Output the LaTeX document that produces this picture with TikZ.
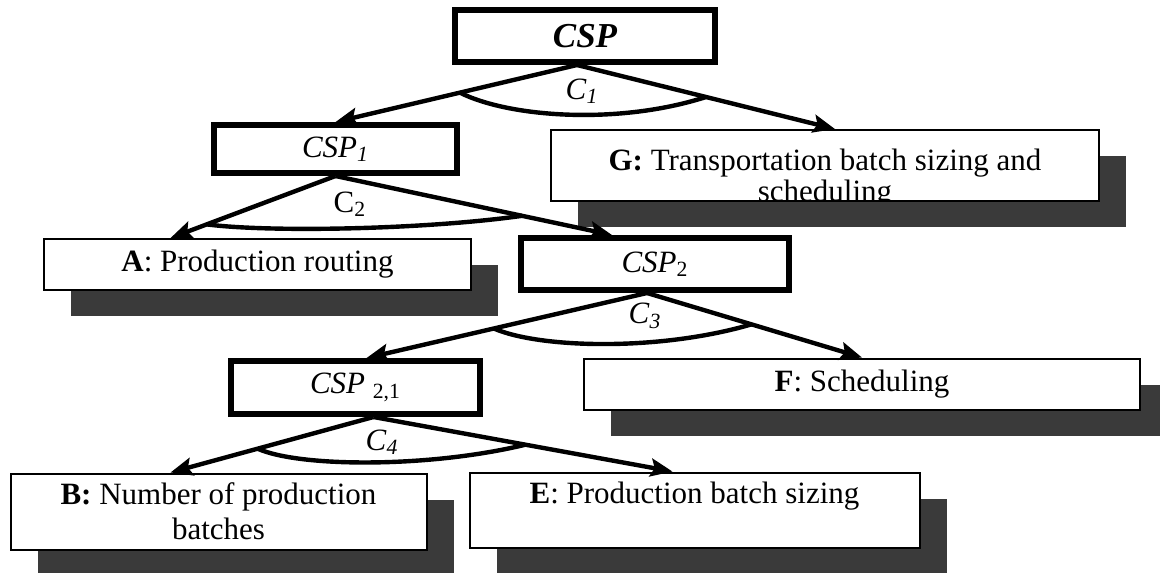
\documentclass[tikz,border=0pt]{standalone}
\usepackage{fontspec}
\setmainfont{Liberation Serif}
\usetikzlibrary{arrows.meta,shadows}
\definecolor{shadowgray}{RGB}{58,58,58}
\begin{document}
\begin{tikzpicture}[x=0.5pt,y=-0.5pt,
  cspbox/.style={draw, line width=3pt, fill=white, inner sep=0pt, font=\fontsize{15.5}{18}\selectfont},
  taskbox/.style={draw, line width=1pt, fill=white, inner sep=0pt, align=center, font=\fontsize{15.5}{17.5}\selectfont,
    general shadow={fill=shadowgray, shadow xshift=13.5pt, shadow yshift=-13pt}},
  link/.style={line width=2.2pt, -{Stealth[length=11pt,width=9pt,inset=2pt]}},
  andarc/.style={line width=2.2pt},
  lbl/.style={font=\fontsize{15.5}{18}\selectfont}]
\useasboundingbox (0,0) rectangle (1160,572);

% problems
\node[cspbox, minimum width=130pt, minimum height=26pt, font=\fontsize{17.5}{20}\selectfont\bfseries\itshape] (csp) at (585,36) {CSP};
\node[cspbox, minimum width=121.5pt, minimum height=24pt] (csp1) at (335.5,149) {\textit{CSP}\textsubscript{\textit{1}}};
\node[cspbox, minimum width=134pt, minimum height=26pt] (csp2) at (655,264) {\textit{CSP}\textsubscript{2}};
\node[cspbox, minimum width=124.5pt, minimum height=26.5pt] (csp21) at (355.5,387.5) {\textit{CSP}~\textsubscript{2,1}};

% decisions
\node[taskbox, minimum width=274pt, minimum height=35.5pt,
  path picture={\node[anchor=north, align=center, inner sep=0pt, font=\fontsize{15.5}{18}\selectfont] (gtext)
    at ([yshift=-6pt]path picture bounding box.north) {\textbf{G:} Transportation batch sizing and\\[-2.5pt]scheduling};}] (g) at (825,165.5) {};
\node[taskbox, minimum width=213.5pt, minimum height=25.5pt] (a) at (257.5,264.5) {\textbf{A}: Production routing};
\node[taskbox, minimum width=278pt, minimum height=25.5pt] (f) at (862,384) {\textbf{F}: Scheduling};
\node[taskbox, minimum width=208pt, minimum height=38pt] (b) at (218.5,511.5) {\textbf{B:} Number of production\\batches};
\node[taskbox, minimum width=225pt, minimum height=37.5pt] (e) at (694.5,510) {\textbf{E}: Production batch sizing\\ \mbox{}};

% C1
\draw[link] ([xshift=-4pt]csp.south) -- coordinate[pos=.485] (c1l) (csp1.north);
\draw[link] ([xshift=-4pt]csp.south) -- coordinate[pos=.5] (c1r) ([xshift=5pt]g.north);
\draw[andarc] (c1l) .. controls +(50,25) and +(-87,28) .. (c1r);
\node[lbl] (c1) at (582,91) {\textit{C}\textsubscript{\textit{1}}};

% C2
\draw[link] (csp1.south) -- coordinate[pos=.78] (c2l) ([xshift=-43.5pt]a.north);
\draw[link] (csp1.south) -- coordinate[pos=.675] (c2r) ([xshift=-21.5pt]csp2.north);
\draw[andarc] (c2l) .. controls +(60,8) and +(-100,14) .. (c2r);
\node[lbl] (c2) at (350,204) {C\textsubscript{2}};

% C3
\draw[link] ([xshift=-4pt]csp2.south) -- coordinate[pos=.546] (c3l) ([xshift=5.5pt]csp21.north);
\draw[link] ([xshift=-4pt]csp2.south) -- coordinate[pos=.486] (c3r) (f.north);
\draw[andarc] (c3l) .. controls +(46,20) and +(-92,27) .. (c3r);
\node[lbl] (c3) at (645,316) {\textit{C}\textsubscript{\textit{3}}};

% C4
\draw[link] ([xshift=9pt]csp21.south) -- coordinate[pos=.571] (c4l) ([xshift=-24pt]b.north);
\draw[link] ([xshift=9pt]csp21.south) -- coordinate[pos=.508] (c4r) ([xshift=-11pt]e.north);
\draw[andarc] (c4l) .. controls +(43,19) and +(-95,23) .. (c4r);
\node[lbl] (c4) at (382,442) {\textit{C}\textsubscript{\textit{4}}};
\end{tikzpicture}
\end{document}
